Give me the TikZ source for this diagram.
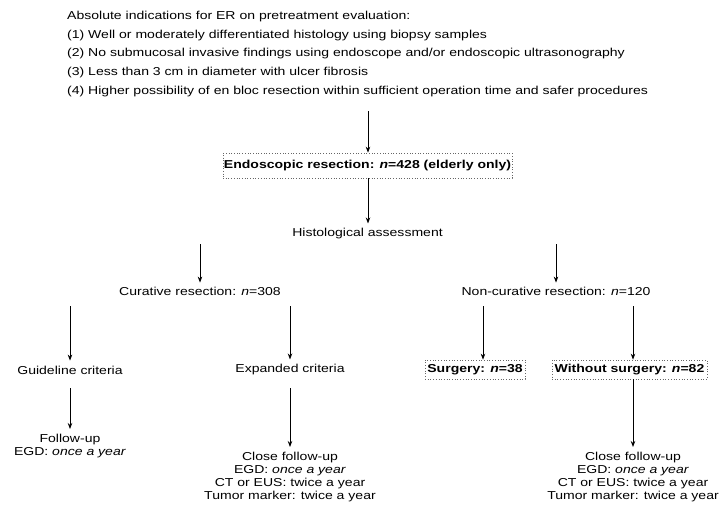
\documentclass[tikz,border=0pt]{standalone}
\usepackage{fontspec}
\setmainfont{Liberation Sans}[FakeStretch=1.22]
\usetikzlibrary{arrows.meta}
\newcommand{\fs}{\fontsize{11.5}{13}\selectfont}
\newcommand{\nn}{\textit{n}}
\begin{document}
\begin{tikzpicture}[x=1pt,y=-1pt,
  lbl/.style={inner sep=0pt, font=\fs, align=center},
  dotbox/.style={draw=black!60, dash pattern=on 0.7pt off 2pt, line width=0.7pt,
     inner sep=0pt, font=\fs\bfseries},
  arr/.style={line width=0.8pt, -{Stealth[length=6pt,width=4.5pt]}}]
\useasboundingbox (0,0) rectangle (719,511);
% header
\node[lbl, anchor=north west, align=left, font=\fontsize{11.5}{18.7}\selectfont] (head) at (67,11)
 {Absolute indications for ER on pretreatment evaluation:\\
  (1) Well or moderately differentiated histology using biopsy samples\\
  (2) No submucosal invasive findings using endoscope and/or endoscopic ultrasonography\\
  (3) Less than 3 cm in diameter with ulcer fibrosis\\
  (4) Higher possibility of en bloc resection within sufficient operation time and safer procedures};
% main box
\node[dotbox, minimum width=289pt, minimum height=25pt] (er) at (367.5,165.5)
 {Endoscopic resection: \nn=428 (elderly only)};
\node[lbl] (hist) at (367.5,234) {Histological assessment};
\node[lbl] (cur) at (200,291) {Curative resection: \nn=308};
\node[lbl] (ncur) at (556,291) {Non-curative resection: \nn=120};
\node[lbl] (guide) at (70,370) {Guideline criteria};
\node[lbl] (exp) at (290,370) {Expanded criteria};
\node[dotbox, minimum width=100pt, minimum height=19pt] (surg) at (475,369.5) {Surgery: \nn=38};
\node[dotbox, minimum width=155pt, minimum height=19pt] (wos) at (629.5,369.5) {Without surgery: \nn=82};
\node[lbl, anchor=north] (fu1) at (70,434) {Follow-up\\EGD: \textit{once a year}};
\node[lbl, anchor=north] (fu2) at (290,452) {Close follow-up\\EGD: \textit{once a year}\\CT or EUS: twice a year\\Tumor marker: twice a year};
\node[lbl, anchor=north] (fu3) at (633,452) {Close follow-up\\EGD: \textit{once a year}\\CT or EUS: twice a year\\Tumor marker: twice a year};
% arrow tails
\coordinate (t1) at (368,111);
\coordinate (t2) at (200,244);
\coordinate (t3) at (556,244);
\coordinate (t4) at (70,306);
\coordinate (t5) at (290,306);
\coordinate (t6) at (483,306);
\coordinate (t7) at (633,306);
\coordinate (t8) at (70,388);
\coordinate (t9) at (290,388);
% arrows
\draw[arr] (t1) -- (t1 |- er.north);
\draw[arr] (er.south -| t1) -- ([yshift=5pt]hist.north -| t1);
\draw[arr] (t2) -- ([yshift=4pt]cur.north -| t2);
\draw[arr] (t3) -- ([yshift=4pt]ncur.north -| t3);
\draw[arr] (t4) -- ([yshift=5pt]guide.north -| t4);
\draw[arr] (t5) -- ([yshift=5pt]exp.north -| t5);
\draw[arr] (t6) -- (t6 |- surg.north);
\draw[arr] (t7) -- (t7 |- wos.north);
\draw[arr] (t8) -- ([yshift=5pt]fu1.north -| t8);
\draw[arr] (t9) -- ([yshift=5pt]fu2.north -| t9);
\draw[arr] (wos.south -| t7) -- ([yshift=5pt]fu3.north -| t7);
\end{tikzpicture}
\end{document}
